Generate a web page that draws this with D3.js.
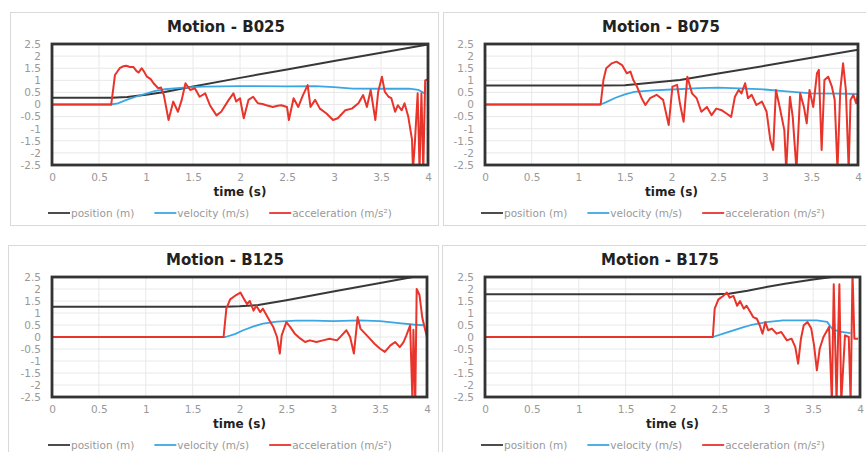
<!DOCTYPE html>
<html>
<head>
<meta charset="utf-8">
<script src="https://cdn.jsdelivr.net/npm/d3@7"></script>
<style>
  body { margin: 0; background: #fff; }
  svg { display: block; }
</style>
</head>
<body>
<svg id="chart" width="866" height="452"></svg>
<script>
// axis ticks and labels
var xTicks = [0, 0.5, 1, 1.5, 2, 2.5, 3, 3.5, 4];
var yTicks = [2.5, 2, 1.5, 1, 0.5, 0, -0.5, -1, -1.5, -2, -2.5];
var seriesNames = ["position (m)", "velocity (m/s)", "acceleration (m/s²)"];
var titles = ["Motion - B025", "Motion - B075", "Motion - B125", "Motion - B175"];

// [time (s), value] pairs
var b025Position = [[0,0.28],[0.63,0.28],[0.8,0.31],[1.0,0.4],[1.2,0.52],[1.4,0.67],[2,1.1],[2.5,1.45],[3,1.8],[3.5,2.14],[4,2.48]];
var b025Velocity = [[0,0],[0.63,0],[0.7,0.05],[0.8,0.2],[0.9,0.33],[1.0,0.45],[1.1,0.56],[1.2,0.63],[1.4,0.7],[1.6,0.74],[2,0.76],[2.5,0.75],[2.8,0.76],[3.0,0.72],[3.2,0.66],[3.5,0.65],[3.8,0.66],[3.9,0.6],[3.97,0.45]];
var b025Acceleration = [[0,0],[0.63,0],[0.65,0.6],[0.67,1.22],[0.72,1.5],[0.76,1.58],[0.79,1.6],[0.83,1.55],[0.865,1.55],[0.9,1.38],[0.92,1.32],[0.955,1.5],[0.98,1.35],[1.01,1.15],[1.05,1.05],[1.08,0.88],[1.13,0.67],[1.16,0.7],[1.19,0.39],[1.24,-0.64],[1.29,0.12],[1.34,-0.3],[1.38,0.19],[1.42,0.88],[1.47,0.6],[1.52,0.67],[1.57,0.32],[1.63,0.46],[1.68,-0.03],[1.75,-0.45],[1.8,-0.3],[1.88,0.19],[1.93,0.46],[1.96,0.12],[2.0,0.26],[2.04,-0.57],[2.09,0.19],[2.14,0.32],[2.19,0.05],[2.24,0.02],[2.28,-0.03],[2.35,-0.1],[2.4,-0.05],[2.44,-0.03],[2.5,-0.1],[2.52,-0.64],[2.57,0.26],[2.62,-0.1],[2.67,0.39],[2.72,0.8],[2.75,-0.1],[2.8,0.19],[2.85,-0.17],[2.92,-0.37],[2.99,-0.64],[3.04,-0.57],[3.12,-0.24],[3.19,-0.17],[3.26,0.05],[3.31,0.39],[3.35,-0.1],[3.39,0.6],[3.44,-0.64],[3.47,0.53],[3.51,1.15],[3.54,0.53],[3.58,0.32],[3.61,0.26],[3.65,-0.3],[3.68,-0.03],[3.72,-0.24],[3.75,0.05],[3.79,-0.5],[3.83,-1.45],[3.84,-2.7],[3.86,-1.6],[3.89,0.46],[3.91,-2.7],[3.93,0.46],[3.95,-2.7],[3.97,1.0],[4.0,1.05]];

var b075Position = [[0,0.78],[1.24,0.78],[1.5,0.8],[1.7,0.87],[2.09,1.01],[2.5,1.28],[3,1.6],[3.5,1.93],[4,2.26]];
var b075Velocity = [[0,0],[1.24,0],[1.3,0.1],[1.4,0.28],[1.5,0.42],[1.6,0.52],[1.8,0.58],[2.0,0.62],[2.3,0.68],[2.5,0.7],[2.8,0.66],[3.0,0.62],[3.2,0.55],[3.5,0.46],[3.8,0.45],[4.0,0.43]];
var b075Acceleration = [[0,0],[1.24,0],[1.27,1.01],[1.30,1.5],[1.36,1.7],[1.41,1.77],[1.47,1.63],[1.52,1.29],[1.56,1.36],[1.59,1.01],[1.63,0.74],[1.68,0.26],[1.72,-0.02],[1.77,0.26],[1.84,0.4],[1.91,0.19],[1.97,-0.85],[2.01,0.74],[2.06,0.81],[2.09,0.05],[2.13,-0.71],[2.17,1.15],[2.22,0.46],[2.27,0.26],[2.32,-0.3],[2.38,-0.1],[2.43,-0.44],[2.48,-0.17],[2.54,-0.24],[2.59,-0.37],[2.64,-0.51],[2.68,0.32],[2.72,0.6],[2.75,0.46],[2.79,0.88],[2.82,0.26],[2.86,0.4],[2.91,-0.02],[2.97,0.12],[3.02,-0.3],[3.06,-1.47],[3.09,-1.88],[3.12,0.6],[3.16,-0.1],[3.21,-1.06],[3.23,-2.7],[3.27,0.32],[3.3,-0.51],[3.34,-2.7],[3.38,0.46],[3.42,-0.1],[3.45,-0.78],[3.48,0.6],[3.52,-0.1],[3.56,1.29],[3.58,1.43],[3.61,-1.88],[3.64,1.01],[3.68,1.15],[3.72,0.74],[3.75,0.19],[3.78,-2.7],[3.81,0.6],[3.84,1.7],[3.87,0.6],[3.9,-2.7],[3.92,0.19],[3.95,0.4],[3.98,0.05],[4.0,0.46]];

var b125Position = [[0,1.26],[1.85,1.26],[2.0,1.28],[2.2,1.33],[2.5,1.53],[3,1.9],[3.5,2.25],[3.85,2.5],[4,2.6]];
var b125Velocity = [[0,0],[1.85,0],[1.95,0.12],[2.04,0.28],[2.15,0.44],[2.25,0.56],[2.4,0.64],[2.6,0.68],[2.8,0.68],[3.0,0.66],[3.28,0.69],[3.5,0.66],[3.7,0.58],[3.85,0.52],[3.96,0.49]];
var b125Acceleration = [[0,0],[1.83,0],[1.86,1.18],[1.9,1.57],[1.95,1.71],[2.01,1.85],[2.04,1.64],[2.08,1.37],[2.11,1.5],[2.15,1.1],[2.18,1.3],[2.22,1.04],[2.25,1.18],[2.29,0.9],[2.32,0.69],[2.36,0.42],[2.4,0.0],[2.43,-0.69],[2.45,0.07],[2.5,0.62],[2.54,0.42],[2.59,0.14],[2.65,-0.07],[2.7,-0.21],[2.75,-0.14],[2.82,-0.21],[2.89,-0.14],[2.96,-0.07],[3.04,-0.14],[3.09,0.07],[3.14,0.28],[3.18,0.0],[3.22,-0.69],[3.26,0.83],[3.29,0.35],[3.34,0.14],[3.39,-0.07],[3.44,-0.28],[3.5,-0.49],[3.55,-0.62],[3.61,-0.35],[3.66,-0.21],[3.71,-0.42],[3.75,-0.21],[3.78,0.07],[3.82,0.49],[3.845,-2.7],[3.855,0.3],[3.875,-2.7],[3.89,2.0],[3.92,1.75],[3.95,0.8],[3.98,0.3],[4.0,0.0]];

var b175Position = [[0,1.78],[2.45,1.78],[2.6,1.8],[2.8,1.93],[3,2.08],[3.2,2.22],[3.5,2.4],[3.7,2.5],[4,2.7]];
var b175Velocity = [[0,0],[2.43,0],[2.55,0.15],[2.65,0.28],[2.75,0.4],[2.83,0.49],[3.0,0.62],[3.18,0.69],[3.54,0.69],[3.65,0.63],[3.7,0.35],[3.78,0.22],[3.9,0.16]];
var b175Acceleration = [[0,0],[2.43,0],[2.45,1.18],[2.49,1.57],[2.54,1.71],[2.58,1.85],[2.61,1.64],[2.65,1.71],[2.69,1.3],[2.72,1.5],[2.76,1.18],[2.79,1.3],[2.83,1.04],[2.86,0.83],[2.9,0.76],[2.93,0.49],[2.96,0.14],[2.99,0.62],[3.02,0.28],[3.06,0.35],[3.11,0.14],[3.16,0.21],[3.22,-0.14],[3.27,-0.07],[3.31,-0.42],[3.34,-1.11],[3.37,-0.07],[3.4,0.49],[3.44,0.62],[3.48,0.35],[3.51,-0.35],[3.54,-1.39],[3.57,-0.49],[3.61,0.0],[3.64,0.21],[3.67,0.42],[3.7,-2.7],[3.72,2.2],[3.75,-2.7],[3.78,2.2],[3.8,-2.7],[3.84,0.07],[3.88,0.0],[3.9,-2.7],[3.92,2.7],[3.94,-0.07],[3.98,-0.07]];

//line colours and widths, in series order
var colors = ["#383838", "#3aa7e4", "#e8342a"];
var widths = [2, 1.8, 2];

var panels = [
    { frame: [10, 12, 428, 213], plot: [52, 428, 44, 165], series: [b025Position, b025Velocity, b025Acceleration] },
    { frame: [443, 12, 432, 213], plot: [485, 858, 44, 165], series: [b075Position, b075Velocity, b075Acceleration] },
    { frame: [8, 245, 430, 220], plot: [52, 427, 277, 397], series: [b125Position, b125Velocity, b125Acceleration] },
    { frame: [442, 245, 432, 220], plot: [485, 860, 277, 397], series: [b175Position, b175Velocity, b175Acceleration] }
];

var svg = d3.select("#chart");
var font = "'DejaVu Sans', sans-serif";

panels.forEach(function(p, i) {
    drawPanel(p, titles[i], i);
});

function drawPanel(p, title, idx) {
    var l = p.plot[0], r = p.plot[1], t = p.plot[2], b = p.plot[3];
    var g = svg.append("g");

    g.append("rect")
        .attr("x", p.frame[0] + 0.5).attr("y", p.frame[1] + 0.5)
        .attr("width", p.frame[2]).attr("height", p.frame[3])
        .attr("fill", "#fff")
        .attr("stroke", "#d9d9d9");

    var x = d3.scaleLinear().domain([0, 4]).range([l, r]);
    var y = d3.scaleLinear().domain([-2.5, 2.5]).range([b, t]);

    // gridlines
    g.append("g").selectAll("line.v")
        .data(xTicks)
        .enter().append("line")
        .attr("x1", d => x(d)).attr("x2", d => x(d))
        .attr("y1", t).attr("y2", b)
        .attr("stroke", "#e8e8e8");
    g.append("g").selectAll("line.h")
        .data(yTicks)
        .enter().append("line")
        .attr("x1", l).attr("x2", r)
        .attr("y1", d => y(d)).attr("y2", d => y(d))
        .attr("stroke", "#e8e8e8");

    // axes (labels only)
    var xAxis = g.append("g")
        .attr("transform", `translate(0,${b})`)
        .call(d3.axisBottom(x).tickValues(xTicks).tickSize(0).tickPadding(9).tickFormat(d => String(d)));
    var yAxis = g.append("g")
        .attr("transform", `translate(${l},0)`)
        .call(d3.axisLeft(y).tickValues(yTicks).tickSize(0).tickPadding(11).tickFormat(d => String(d)));
    [xAxis, yAxis].forEach(function(a) {
        a.select(".domain").remove();
        a.selectAll("text")
            .style("font-family", font)
            .style("font-size", "10.5px")
            .attr("fill", "#999");
    });

    // lines, clipped to the plot area
    var clipId = "clip" + idx;
    g.append("clipPath").attr("id", clipId)
        .append("rect")
        .attr("x", l).attr("y", t)
        .attr("width", r - l).attr("height", b - t);

    var line = d3.line()
        .x(d => x(d[0]))
        .y(d => y(d[1]));

    g.append("g")
        .attr("clip-path", `url(#${clipId})`)
        .selectAll("path")
        .data(p.series)
        .enter().append("path")
        .attr("d", d => line(d))
        .attr("fill", "none")
        .attr("stroke", (d, i) => colors[i])
        .attr("stroke-width", (d, i) => widths[i])
        .attr("stroke-linejoin", "round");

    // plot border
    g.append("rect")
        .attr("x", l).attr("y", t)
        .attr("width", r - l).attr("height", b - t)
        .attr("fill", "none")
        .attr("stroke", "#333")
        .attr("stroke-width", 2.8);

    // title
    g.append("text")
        .attr("x", p.frame[0] + p.frame[2] / 2 + 2)
        .attr("y", p.frame[1] + 20)
        .attr("text-anchor", "middle")
        .style("font-family", font)
        .style("font-weight", "bold")
        .style("font-size", "15px")
        .attr("fill", "#222")
        .text(title);

    // x axis title
    g.append("text")
        .attr("x", (l + r) / 2)
        .attr("y", b + 31)
        .attr("text-anchor", "middle")
        .style("font-family", font)
        .style("font-weight", "bold")
        .style("font-size", "12px")
        .attr("fill", "#222")
        .text("time (s)");

    // legend
    var ly = b + 48;
    var lx = l - 4;
    seriesNames.forEach(function(name, i) {
        g.append("line")
            .attr("x1", lx).attr("x2", lx + 22)
            .attr("y1", ly).attr("y2", ly)
            .attr("stroke", colors[i])
            .attr("stroke-width", 1.8);
        var txt = g.append("text")
            .attr("x", lx + 23)
            .attr("y", ly)
            .attr("dy", "0.35em")
            .style("font-family", font)
            .style("font-size", "10.5px")
            .attr("fill", "#999")
            .text(name);
        lx += 23 + txt.node().getComputedTextLength() + 20;
    });
}
</script>
</body>
</html>
